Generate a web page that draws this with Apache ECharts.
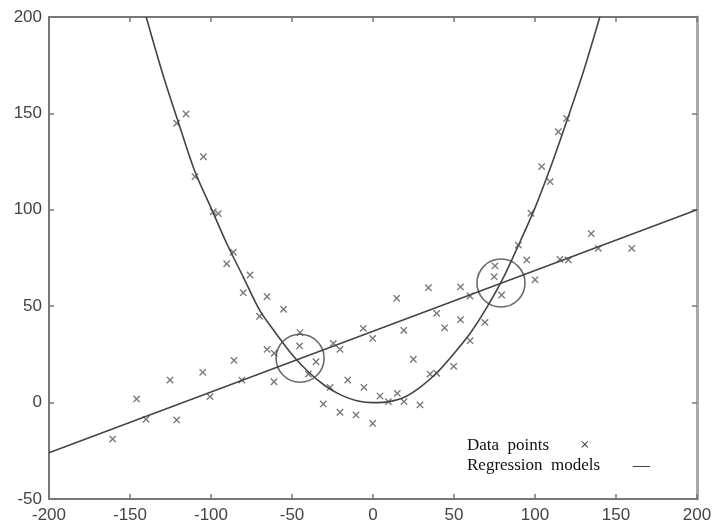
<!DOCTYPE html>
<html>
<head>
<meta charset="utf-8">
<script src="https://cdn.jsdelivr.net/npm/echarts@6/dist/echarts.min.js"></script>
<style>
  html, body { margin: 0; padding: 0; background: #fff; }
  #chart { width: 712px; height: 529px; }
</style>
</head>
<body>
<div id="chart"></div>
<script>
// data points (x, y)
var pointX = [-160.7, -145.9, -140.1, -125.3, -121.2, -105.1, -100.6, -85.8,
    -115.4, -121.2, -104.7, -109.9, -98.6, -95.5, -86.2, -90.3, -75.9, -80.1,
    -65.4, -70.0, -55.2, -45.1, -45.3, -65.4, -61.0, -81.0, -61.1, -35.2, -39.9,
    -24.5, -20.4, -26.5, -30.7, -20.4, -10.5, -0.2, -15.6, -5.6, 4.3, 9.5, 15.0,
    19.1, 29.0, -6.0, -0.2, 14.6, 34.2, 19.0, 39.3, 44.2, 24.9, 35.2, 39.3, 54.0,
    59.9, 54.0, 69.1, 59.9, 49.8, 74.8, 75.3, 79.4, 100.0, 94.9, 89.7, 97.5,
    109.3, 104.1, 114.4, 119.5, 134.7, 139.1, 159.7, 115.4, 120.6];
var pointY = [-18.9, 1.9, -8.7, 11.7, -9.0, 15.7, 3.1, 21.9,
    149.7, 144.9, 127.5, 117.2, 99.0, 98.0, 78.0, 72.0, 66.2, 57.0,
    55.0, 44.8, 48.4, 36.3, 29.4, 27.6, 25.6, 11.7, 10.8, 21.2, 14.8,
    30.7, 27.6, 7.9, -0.7, -5.0, -6.4, -10.8, 11.7, 7.9, 3.4, 0.5, 4.8,
    0.5, -1.2, 38.5, 33.3, 54.1, 59.6, 37.5, 46.3, 38.8, 22.5, 14.8, 15.2, 60.0,
    55.3, 43.0, 41.6, 32.1, 18.8, 65.3, 70.9, 55.8, 63.7, 74.0, 81.7, 98.2,
    114.6, 122.4, 140.5, 147.4, 87.6, 80.0, 80.0, 74.3, 74.0];

// regression curves
var quadX = [-140, -130, -120, -110, -100, -90, -80, -70, -60, -50, -40, -30, -20, -10,
    0, 10, 20, 30, 40, 50, 60, 70, 80, 90, 100, 110, 120, 130, 140];
var quadY = [200, 171, 145, 120, 101, 82, 65, 48, 36, 25, 16, 9, 4, 1,
    0, 0.5, 3, 8.5, 16, 25.5, 36, 49, 64, 82, 101, 123, 147, 172, 200];
var lineX = [-200, 200];
var lineY = [-26, 100];

// intersections marked with circles
var crossX = [-45, 79];
var crossY = [23, 62];

var xTicks = [-200, -150, -100, -50, 0, 50, 100, 150, 200];
var yTicks = [-50, 0, 50, 100, 150, 200];

function pairs(xs, ys) {
    return xs.map(function(x, i) { return [x, ys[i]]; });
}

var crossPath = 'path://M-0.75,-5H0.75V-0.75H5V0.75H0.75V5H-0.75V0.75H-5V-0.75H-0.75Z';
var axisFont = 'Liberation Sans';
var legendFont = '17px "Liberation Serif"';

var myChart = echarts.init(document.getElementById('chart'));

function axisBase(pos, showLabel, lineColor, lineWidth) {
    return {
        type: 'value',
        position: pos,
        interval: 50,
        splitLine: { show: false },
        axisLine: { onZero: false, lineStyle: { color: lineColor, width: lineWidth } },
        axisTick: { inside: true, length: 5, lineStyle: { color: '#777', width: 1.5 } },
        axisLabel: {
            show: showLabel,
            margin: pos === 'bottom' ? 8 : 7,
            fontSize: 17,
            fontFamily: axisFont,
            color: '#444',
            showMinLabel: true,
            showMaxLabel: true
        }
    };
}

var xBottom = axisBase('bottom', true, '#777', 2);
var xTop = axisBase('top', false, '#777', 2);
var yLeft = axisBase('left', true, '#777', 2);
var yRight = axisBase('right', false, '#aaa', 3);
[xBottom, xTop].forEach(function(a) { a.min = xTicks[0]; a.max = xTicks[xTicks.length - 1]; });
[yLeft, yRight].forEach(function(a) { a.min = yTicks[0]; a.max = yTicks[yTicks.length - 1]; });

var options = {
    animation: false,
    backgroundColor: '#fff',
    grid: {
        left: 49,
        right: 15,
        top: 17,
        bottom: 30,
        containLabel: false,
        outerBoundsMode: 'none'
    },
    xAxis: [xBottom, xTop],
    yAxis: [yLeft, yRight],
    series: [{
        name: 'Regression line',
        type: 'line',
        data: pairs(lineX, lineY),
        showSymbol: false,
        lineStyle: { color: '#444', width: 1.6 },
        clip: true
    }, {
        name: 'Regression curve',
        type: 'line',
        data: pairs(quadX, quadY),
        smooth: 0.3,
        showSymbol: false,
        lineStyle: { color: '#444', width: 1.6 },
        clip: true
    }, {
        name: 'Data points',
        type: 'scatter',
        data: pairs(pointX, pointY),
        symbol: crossPath,
        symbolRotate: 45,
        symbolSize: 9,
        itemStyle: { color: '#555' }
    }, {
        name: 'Intersections',
        type: 'scatter',
        data: pairs(crossX, crossY),
        symbol: 'circle',
        symbolSize: 48,
        itemStyle: { color: 'rgba(0,0,0,0)', borderColor: '#444', borderWidth: 1.6 }
    }],
    graphic: [{
        type: 'text',
        left: 467,
        top: 437,
        style: { text: 'Data  points', font: legendFont, fill: '#111' }
    }, {
        type: 'text',
        left: 580,
        top: 437,
        style: { text: '×', font: legendFont, fill: '#222' }
    }, {
        type: 'text',
        left: 467,
        top: 457,
        style: { text: 'Regression  models', font: legendFont, fill: '#111' }
    }, {
        type: 'text',
        left: 633,
        top: 457,
        style: { text: '—', font: legendFont, fill: '#222' }
    }]
};
myChart.setOption(options);
</script>
</body>
</html>
